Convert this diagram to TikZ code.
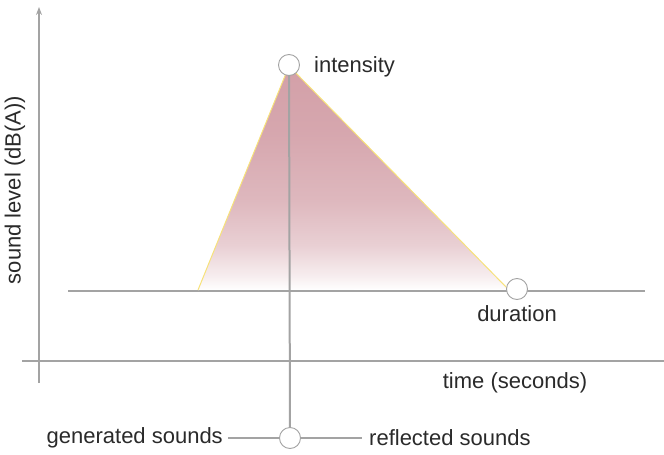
\documentclass[tikz,border=0pt]{standalone}
\usepackage{fontspec}
\setmainfont{Liberation Sans}
\usetikzlibrary{arrows.meta}
\definecolor{axisgray}{HTML}{A3A3A3}
\definecolor{txt}{HTML}{2A2A2A}
\definecolor{rose}{HTML}{D3A0A8}
\definecolor{edgey}{HTML}{F7E27A}
\pgfdeclareverticalshading{trishade}{100bp}{color(0bp)=(white); color(25bp)=(white); color(28bp)=(rose!18!white); color(35bp)=(rose!50!white); color(45bp)=(rose!75!white); color(60bp)=(rose!93!white); color(75bp)=(rose); color(100bp)=(rose)}
\begin{document}
\begin{tikzpicture}[x=1pt,y=-1pt,
  axis/.style={draw=axisgray,line width=2pt},
  lbl/.style={text=txt,font=\fontsize{22}{26}\selectfont,inner sep=0pt},
  dot/.style={circle,draw=axisgray,fill=white,line width=0.9pt,minimum size=21pt,inner sep=0pt}]
\useasboundingbox (0,0) rectangle (664,455);
% axes
\coordinate (yb) at (39,383);
\coordinate (yt) at (39,7);
\coordinate (xl) at (22,361);
\coordinate (xr) at (664,361);
\draw[axis,-{Stealth[length=8pt,width=6pt]}] (yb) -- (yt);
\draw[axis] (xl) -- (xr);
% baseline
\coordinate (bl) at (68,291);
\coordinate (br) at (645,291);
\draw[axis] (bl) -- (br);
% triangle
\coordinate (tl) at (198,290);
\coordinate (tp) at (289,66);
\coordinate (tr) at (508,289);
\shade[shading=trishade] (tl) -- (tp) -- (tr) -- cycle;
\draw[edgey,line width=1pt] (tl) -- (tp) -- (tr);
% nodes
\node[dot] (top) at (289,65) {};
\node[dot] (dur) at (517,289) {};
\node[dot] (bot) at (290,438) {};
\draw[axis] (top) -- (bot);
% labels
\node[lbl,anchor=west] (inten) at (314,67) {intensity};
\node[lbl,anchor=north] (durl) at (517,305) {duration};
\node[lbl] (time) at (515,383) {time (seconds)};
\node[lbl,rotate=90] (snd) at (15,190) {sound level (dB(A))};
\node[lbl,anchor=east] (gen) at (223,438) {generated sounds};
\node[lbl,anchor=west] (ref) at (369,438) {reflected sounds};
\draw[axisgray,line width=1.6pt] (gen.east) ++(5,0) -- (bot.west);
\draw[axisgray,line width=1.6pt] (bot.east) -- ([xshift=-7pt]ref.west);
\end{tikzpicture}
\end{document}
